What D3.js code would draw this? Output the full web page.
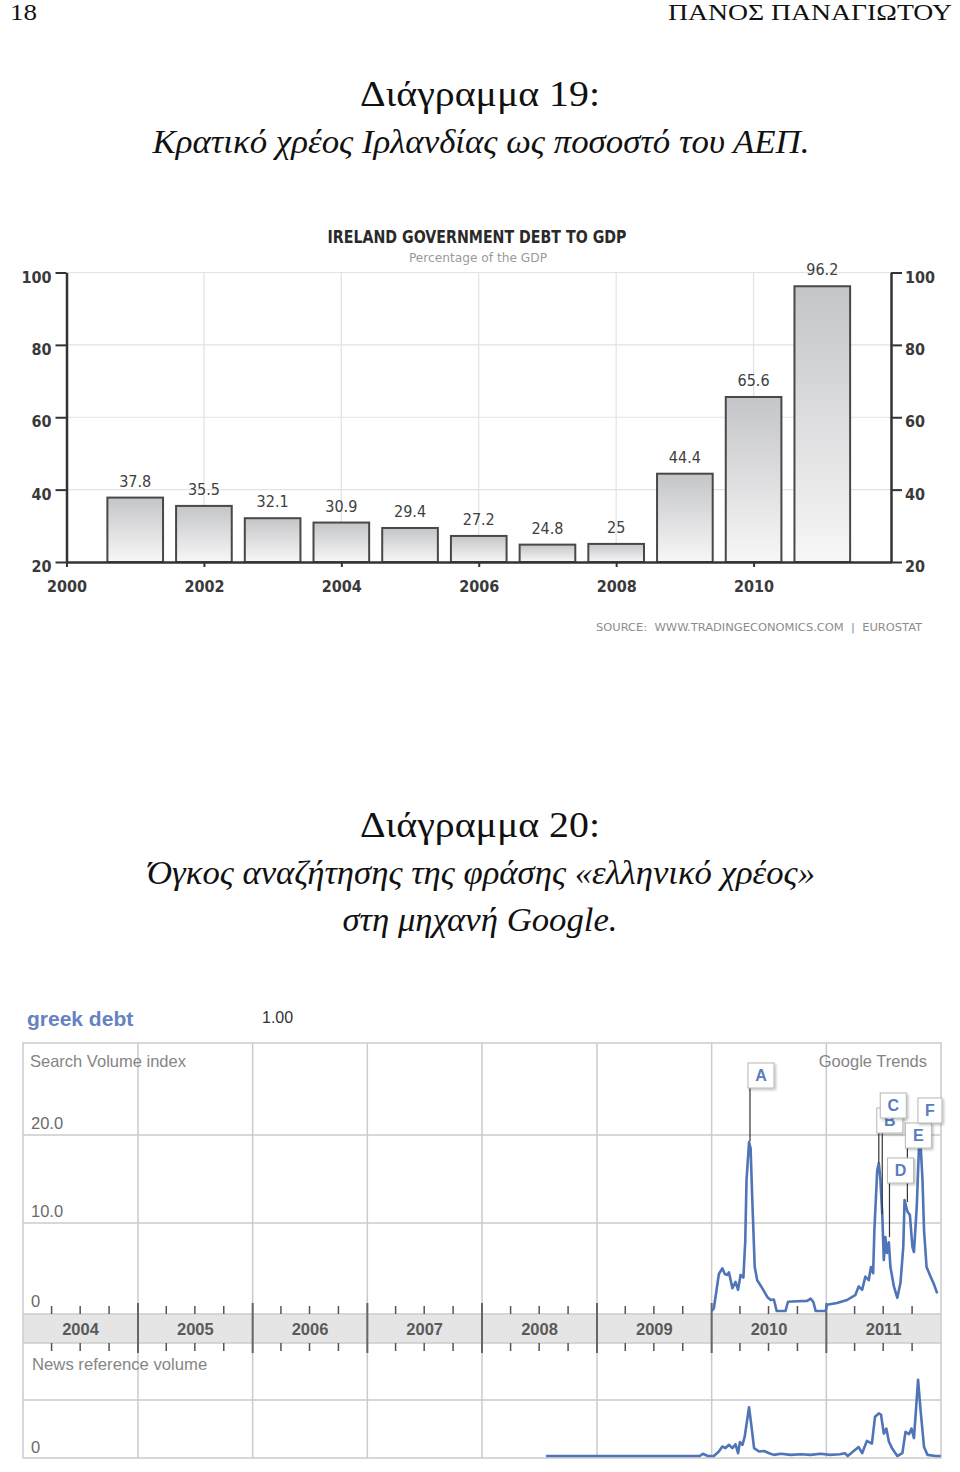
<!DOCTYPE html>
<html><head><meta charset="utf-8">
<script src="https://cdn.jsdelivr.net/npm/d3@7"></script>
<style>body{margin:0;background:#fff}</style>
</head><body><svg id="c" width="960" height="1472" xmlns="http://www.w3.org/2000/svg"></svg>
<script>
// ---------- DATA ----------
const barYears = [2001, 2002, 2003, 2004, 2005, 2006, 2007, 2008, 2009, 2010, 2011];
const barValues = [37.8, 35.5, 32.1, 30.9, 29.4, 27.2, 24.8, 25, 44.4, 65.6, 96.2];
const barValueLabels = ['37.8','35.5','32.1','30.9','29.4','27.2','24.8','25','44.4','65.6','96.2'];
const barYTicks = [20, 40, 60, 80, 100];
const barXTicks = [2000, 2002, 2004, 2006, 2008, 2010];

const trendYearLabels = [2004, 2005, 2006, 2007, 2008, 2009, 2010, 2011];
const searchYTicks = [0, 10, 20];
const searchYTickLabels = ['0', '10.0', '20.0'];

const searchDates = ['2010-01-01','2010-01-08','2010-01-17','2010-01-24','2010-02-04','2010-02-12','2010-02-20','2010-02-25','2010-03-08','2010-03-18','2010-03-26','2010-04-03','2010-04-12','2010-04-18','2010-04-22','2010-04-30','2010-05-05','2010-05-10','2010-05-18','2010-05-26','2010-06-11','2010-06-27','2010-07-08','2010-07-18','2010-07-27','2010-08-24','2010-09-01','2010-10-01','2010-11-01','2010-11-12','2010-11-21','2010-11-28','2010-12-30','2011-01-03','2011-02-04','2011-03-08','2011-04-03','2011-04-14','2011-04-25','2011-05-05','2011-05-16','2011-05-23','2011-05-30','2011-06-03','2011-06-12','2011-06-17','2011-06-22','2011-06-28','2011-07-03','2011-07-08','2011-07-13','2011-07-19','2011-07-24','2011-08-04','2011-08-15','2011-08-25','2011-09-03','2011-09-07','2011-09-16','2011-09-24','2011-10-02','2011-10-07','2011-10-16','2011-10-23','2011-10-28','2011-11-03','2011-11-08','2011-11-16','2011-11-29','2011-12-10','2011-12-20'];
const searchValues = [0,0.3,2.5,4.2,4.85,4.2,4.1,4.4,2.6,3.3,2.4,4.1,3.8,8,14.9,19.2,18.5,13,5,3.5,2.6,1.6,1.25,1.3,0,0,1.05,1.1,1.15,1.4,1.0,0,0,0.7,0.9,1.25,1.8,2.8,2.4,3.9,3.5,5,4.3,9.2,16,16.8,15,11,5.8,8.4,6.6,7.8,5,2.8,1.5,3.2,7.3,12.6,11.3,10.9,7.3,6.7,12,18.7,18.9,15,9.2,5,3.9,3,2];

const newsDates = ['2008-07-23','2009-11-24','2009-12-04','2009-12-20','2010-01-08','2010-01-24','2010-02-04','2010-02-14','2010-02-25','2010-03-08','2010-03-18','2010-03-26','2010-04-01','2010-04-09','2010-04-16','2010-04-30','2010-05-08','2010-05-16','2010-06-01','2010-06-17','2010-07-03','2010-07-18','2010-08-09','2010-09-10','2010-10-12','2010-11-12','2010-12-14','2011-01-13','2011-02-13','2011-03-01','2011-03-10','2011-04-03','2011-04-14','2011-04-25','2011-05-10','2011-05-26','2011-06-05','2011-06-17','2011-06-24','2011-07-03','2011-07-11','2011-07-19','2011-07-29','2011-08-15','2011-08-31','2011-09-10','2011-09-21','2011-09-29','2011-10-07','2011-10-20','2011-10-28','2011-11-08','2011-11-19','2011-12-15','2011-12-31'];
const newsValues = [0,0,0.04,0,0,0.08,0.17,0.14,0.2,0.14,0.21,0.05,0.25,0.2,0.34,0.87,0.52,0.14,0.08,0.09,0.05,0.02,0.04,0.02,0.03,0.02,0.04,0.02,0.03,0.05,0,0.11,0.16,0.05,0.27,0.22,0.7,0.76,0.74,0.4,0.49,0.26,0.14,0,0.05,0.43,0.39,0.49,0.32,1.36,0.82,0.16,0.02,0,0];

const annotLetters = ['A','B','C','D','E','F'];
const annotDates = ['2010-05-03','2011-06-17','2011-06-28','2011-07-21','2011-09-16','2011-10-26'];
const annotValues = [19.3, 16.8, 11, 8.4, 12.4, 18.8];

// ---------- LAYOUT ----------
const svg = d3.select('#c');
const serif = "'Liberation Serif','DejaVu Serif',serif";
const cond = "'DejaVu Sans Condensed','DejaVu Sans',sans-serif";
const arial = "'Liberation Sans',Arial,sans-serif";

function txt(x, y, s, o) {
  const t = svg.append('text').attr('x', x).attr('y', y).text(s);
  for (const k in o) t.attr(k, o[k]);
  return t;
}

// Header
txt(10, 20, '18', {'font-family': serif, 'font-size': 24, textLength: 27, lengthAdjust: 'spacingAndGlyphs', fill: '#111'});
txt(952, 20, 'ΠΑΝΟΣ ΠΑΝΑΓΙΩΤΟΥ', {'font-family': serif, 'font-size': 24, 'text-anchor': 'end', textLength: 284, lengthAdjust: 'spacingAndGlyphs', fill: '#111'});

// Titles 19
txt(480, 106, 'Διάγραμμα 19:', {'font-family': serif, 'font-size': 35, 'text-anchor': 'middle', textLength: 240, lengthAdjust: 'spacingAndGlyphs', fill: '#111'});
txt(481, 153, 'Κρατικό χρέος Ιρλανδίας ως ποσοστό του ΑΕΠ.', {'font-family': serif, 'font-style': 'italic', 'font-size': 34, 'text-anchor': 'middle', textLength: 657, lengthAdjust: 'spacingAndGlyphs', fill: '#111'});

// ---------- BAR CHART ----------
const bx = d3.scaleLinear().domain([2000, 2012]).range([66.5, 891]);
const by = d3.scaleLinear().domain([20, 100]).range([562, 272.5]);

const defs = svg.append('defs');
const grad = defs.append('linearGradient').attr('id', 'barGrad').attr('x1', 0).attr('y1', 0).attr('x2', 0).attr('y2', 1);
grad.append('stop').attr('offset', 0).attr('stop-color', '#c4c5c8');
grad.append('stop').attr('offset', 1).attr('stop-color', '#f7f7f7');
const sh = defs.append('filter').attr('id', 'shadow').attr('x', '-20%').attr('y', '-20%').attr('width', '150%').attr('height', '150%');
sh.append('feDropShadow').attr('dx', 1.5).attr('dy', 1.5).attr('stdDeviation', 1).attr('flood-color', '#000').attr('flood-opacity', 0.25);

txt(477, 243, 'IRELAND GOVERNMENT DEBT TO GDP', {'font-family': cond, 'font-weight': 'bold', 'font-size': 18, 'text-anchor': 'middle', textLength: 299, lengthAdjust: 'spacingAndGlyphs', fill: '#2a2a2a'});
txt(478, 262, 'Percentage of the GDP', {'font-family': cond, 'font-size': 12, 'text-anchor': 'middle', textLength: 138, lengthAdjust: 'spacingAndGlyphs', fill: '#9a9a9a'});

const gridG = svg.append('g');
gridG.selectAll('line.h').data(barYTicks.filter(v => v > 20)).join('line')
  .attr('x1', bx(2000)).attr('x2', bx(2012)).attr('y1', d => by(d)).attr('y2', d => by(d))
  .attr('stroke', '#e2e2e2').attr('stroke-width', 1.2);
gridG.selectAll('line.v').data(barXTicks.filter(v => v > 2000)).join('line')
  .attr('x1', d => bx(d)).attr('x2', d => bx(d)).attr('y1', by(100)).attr('y2', by(20))
  .attr('stroke', '#e2e2e2').attr('stroke-width', 1.2);

const bw = (bx(2001) - bx(2000)) * 0.81;
const bars = barYears.map((y, i) => ({year: y, v: barValues[i], label: barValueLabels[i]}));
svg.append('g').selectAll('rect').data(bars).join('rect')
  .attr('x', d => bx(d.year) - bw / 2).attr('y', d => by(d.v))
  .attr('width', bw).attr('height', d => by(20) - by(d.v))
  .attr('fill', 'url(#barGrad)').attr('stroke', '#484848').attr('stroke-width', 2);
svg.append('g').selectAll('text').data(bars).join('text')
  .attr('x', d => bx(d.year)).attr('y', d => by(d.v) - 11)
  .attr('text-anchor', 'middle').attr('font-family', cond).attr('font-size', 16)
  .attr('fill', '#404040').text(d => d.label);

function styleAxis(g) {
  g.select('.domain').attr('stroke', '#333').attr('stroke-width', 2.5);
  g.selectAll('.tick line').attr('stroke', '#333').attr('stroke-width', 2);
  g.selectAll('.tick text').attr('font-family', cond).attr('font-weight', 'bold').attr('font-size', 16).attr('fill', '#3a3a3a');
}
const gl = svg.append('g').attr('transform', `translate(${bx(2000)},0)`)
  .call(d3.axisLeft(by).tickValues(barYTicks).tickSize(11).tickSizeOuter(0).tickPadding(4));
styleAxis(gl); gl.selectAll('.tick text').attr('dy', '0.6em');
const gr = svg.append('g').attr('transform', `translate(${bx(2012)},0)`)
  .call(d3.axisRight(by).tickValues(barYTicks).tickSize(11).tickSizeOuter(0).tickPadding(3));
styleAxis(gr); gr.selectAll('.tick text').attr('dy', '0.6em');
const gb = svg.append('g').attr('transform', `translate(0,${by(20)})`)
  .call(d3.axisBottom(bx).tickValues(barXTicks).tickFormat(d3.format('d')).tickSize(5).tickSizeOuter(0));
styleAxis(gb); gb.selectAll('.tick text').attr('y', 30).attr('dy', 0);

txt(759, 631, 'SOURCE:  WWW.TRADINGECONOMICS.COM  |  EUROSTAT', {'font-family': cond, 'font-size': 11, 'text-anchor': 'middle', textLength: 326, lengthAdjust: 'spacingAndGlyphs', fill: '#8c8c8c', 'xml:space': 'preserve'});

// Titles 20
txt(480, 837, 'Διάγραμμα 20:', {'font-family': serif, 'font-size': 35, 'text-anchor': 'middle', textLength: 240, lengthAdjust: 'spacingAndGlyphs', fill: '#111'});
txt(481, 884, 'Όγκος αναζήτησης της φράσης «ελληνικό χρέος»', {'font-family': serif, 'font-style': 'italic', 'font-size': 34, 'text-anchor': 'middle', textLength: 668, lengthAdjust: 'spacingAndGlyphs', fill: '#111'});
txt(480, 931, 'στη μηχανή Google.', {'font-family': serif, 'font-style': 'italic', 'font-size': 34, 'text-anchor': 'middle', textLength: 275, lengthAdjust: 'spacingAndGlyphs', fill: '#111'});

// ---------- GOOGLE TRENDS ----------
const parse = d3.timeParse('%Y-%m-%d');
const gx = d3.scaleTime().domain([new Date(2004, 0, 1), new Date(2012, 0, 1)]).range([23, 941]);
const gyS = d3.scaleLinear().domain([0, 20]).range([1311, 1135]);
const gyN = d3.scaleLinear().domain([0, 1]).range([1456, 1400]);
const frameTop = 1043, bandTop = 1314, bandBot = 1343, frameBottom = 1458;
const gridC = '#cbcbcb';

txt(27, 1026, 'greek debt', {'font-family': arial, 'font-weight': 'bold', 'font-size': 21, fill: '#6583c0'});
txt(262, 1023, '1.00', {'font-family': arial, 'font-size': 16, fill: '#333'});

const tg = svg.append('g');
tg.append('rect').attr('x', gx.range()[0]).attr('y', bandTop).attr('width', gx.range()[1] - gx.range()[0]).attr('height', bandBot - bandTop).attr('fill', '#e5e5e5');
tg.append('rect').attr('x', gx.range()[0]).attr('y', frameTop).attr('width', gx.range()[1] - gx.range()[0]).attr('height', frameBottom - frameTop).attr('fill', 'none').attr('stroke', gridC).attr('stroke-width', 1.5);
tg.selectAll('line.h').data([gyS(20), gyS(10), bandTop, bandBot, gyN(1)]).join('line')
  .attr('x1', gx.range()[0]).attr('x2', gx.range()[1]).attr('y1', d => d).attr('y2', d => d)
  .attr('stroke', gridC).attr('stroke-width', 1.5);
const yearStarts = trendYearLabels.slice(1).map(y => new Date(y, 0, 1));
tg.selectAll('line.v').data(yearStarts).join('line')
  .attr('x1', d => gx(d)).attr('x2', d => gx(d)).attr('y1', frameTop).attr('y2', frameBottom)
  .attr('stroke', gridC).attr('stroke-width', 1.5);
// quarter ticks
const quarters = [];
trendYearLabels.forEach(y => [3, 6, 9].forEach(m => quarters.push(new Date(y, m, 1))));
tg.selectAll('line.q1').data(quarters).join('line')
  .attr('x1', d => gx(d)).attr('x2', d => gx(d)).attr('y1', bandTop - 8).attr('y2', bandTop)
  .attr('stroke', '#555').attr('stroke-width', 1.5);
tg.selectAll('line.q2').data(quarters).join('line')
  .attr('x1', d => gx(d)).attr('x2', d => gx(d)).attr('y1', bandBot).attr('y2', bandBot + 8)
  .attr('stroke', '#555').attr('stroke-width', 1.5);
tg.selectAll('line.yb').data(yearStarts).join('line')
  .attr('x1', d => gx(d)).attr('x2', d => gx(d)).attr('y1', bandTop - 11).attr('y2', bandBot + 10)
  .attr('stroke', '#666').attr('stroke-width', 2);
// year labels
tg.selectAll('text.yl').data(trendYearLabels).join('text')
  .attr('x', d => (gx(new Date(d, 0, 1)) + gx(new Date(d + 1, 0, 1))) / 2)
  .attr('y', 1335).attr('text-anchor', 'middle').attr('font-family', arial)
  .attr('font-weight', 'bold').attr('font-size', 16.5).attr('fill', '#5a5a5a').text(d => d);

// y labels
tg.selectAll('text.sy').data(searchYTicks).join('text')
  .attr('x', 31).attr('y', d => gyS(d) - (d === 0 ? 4 : 6))
  .attr('font-family', arial).attr('font-size', 16.5).attr('fill', '#6a6a6a')
  .text((d, i) => searchYTickLabels[i]);
txt(31, 1453, '0', {'font-family': arial, 'font-size': 16.5, fill: '#6a6a6a'});
txt(30, 1067, 'Search Volume index', {'font-family': arial, 'font-size': 16.5, fill: '#858585'});
txt(927, 1067, 'Google Trends', {'font-family': arial, 'font-size': 16.5, fill: '#858585', 'text-anchor': 'end'});
txt(32, 1370, 'News reference volume', {'font-family': arial, 'font-size': 16.7, fill: '#858585'});

// lines
const sData = searchDates.map((d, i) => ({date: parse(d), v: searchValues[i]}));
const nData = newsDates.map((d, i) => ({date: parse(d), v: newsValues[i]}));
const lineS = d3.line().x(d => gx(d.date)).y(d => gyS(d.v));
const lineN = d3.line().x(d => gx(d.date)).y(d => gyN(d.v));
const blue = '#4f74b8';
tg.append('path').datum(sData).attr('d', lineS).attr('fill', 'none').attr('stroke', blue).attr('stroke-width', 2.6).attr('stroke-linejoin', 'round');
tg.append('path').datum(nData).attr('d', lineN).attr('fill', 'none').attr('stroke', blue).attr('stroke-width', 2.6).attr('stroke-linejoin', 'round');

// annotations
const boxTop = {A: 1063, B: 1108, C: 1093, D: 1158, E: 1123, F: 1098};
const ann = annotLetters.map((l, i) => ({l, date: parse(annotDates[i]), v: annotValues[i]}));
const ag = svg.append('g');
ag.selectAll('line').data(ann).join('line')
  .attr('x1', d => gx(d.date)).attr('x2', d => gx(d.date))
  .attr('y1', d => boxTop[d.l] + 24).attr('y2', d => gyS(d.v))
  .attr('stroke', '#333').attr('stroke-width', 1.2);
const boxes = ag.selectAll('g.b').data(ann).join('g')
  .attr('transform', d => `translate(${gx(d.date) - 2},${boxTop[d.l]})`);
boxes.append('rect').attr('width', d => d.l === 'F' ? 24 : 26).attr('height', 25)
  .attr('fill', '#fff').attr('stroke', '#b8b8b8').attr('stroke-width', 1).attr('filter', 'url(#shadow)');
boxes.append('text').attr('x', d => d.l === 'F' ? 12 : 13).attr('y', 18).attr('text-anchor', 'middle')
  .attr('font-family', arial).attr('font-weight', 'bold').attr('font-size', 16).attr('fill', '#5a7cc0').text(d => d.l);
</script></body></html>
